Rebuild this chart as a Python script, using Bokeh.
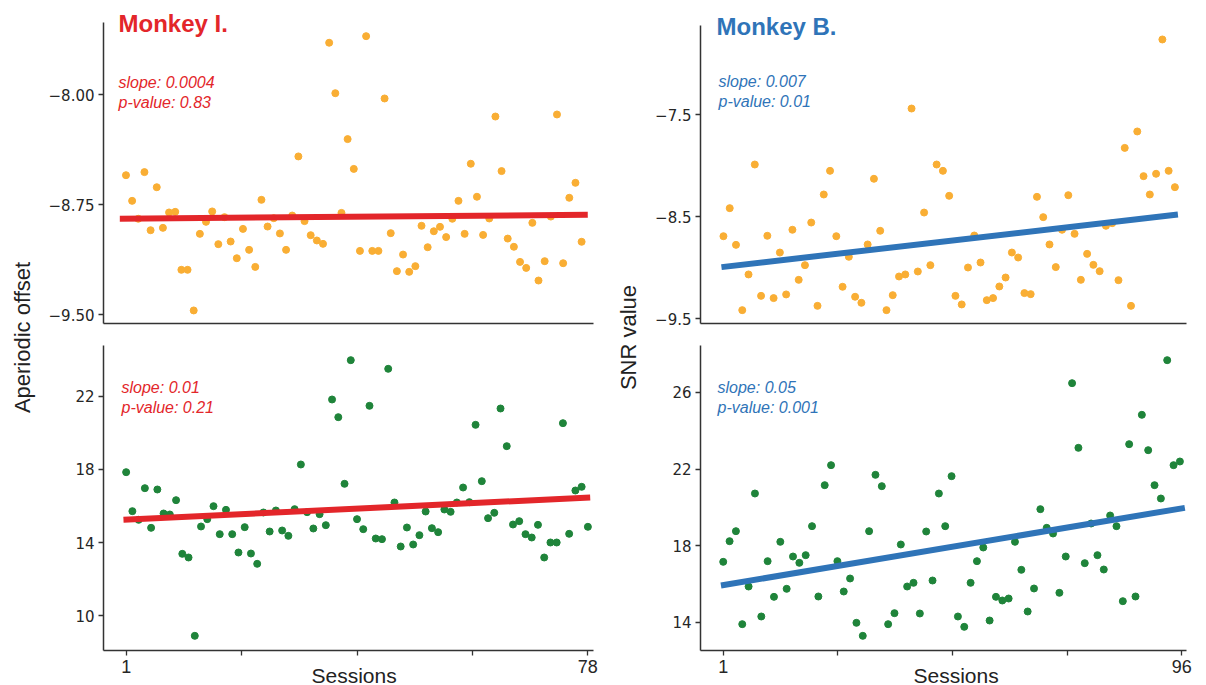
import numpy as np
from bokeh.plotting import figure
from bokeh.models import Label, FixedTicker, Range1d, Title
from bokeh.layouts import row, column
from bokeh.embed import file_html
from bokeh.resources import INLINE

# ---------------- data ----------------
# Monkey I. (78 sessions axis, 75 plotted points)
monkey_i_offset = [
    -8.548, -8.723, -8.845, -8.527, -8.923, -8.630, -8.907, -8.802, -8.798, -9.193,
    -9.193, -9.470, -8.948, -8.866, -8.795, -9.018, -8.834, -9.000, -9.114, -8.914,
    -9.057, -9.173, -8.716, -8.898, -8.841, -8.945, -9.057, -8.823, -8.420, -8.861,
    -8.957, -8.993, -9.016, -7.645, -7.989, -8.805, -8.302, -8.505, -9.064, -7.600,
    -9.064, -9.064, -8.025, -8.943, -9.202, -9.089, -9.207, -9.168, -8.893, -9.039,
    -8.930, -8.900, -8.970, -8.845, -8.723, -8.948, -8.470, -8.695, -8.955, -8.843,
    -8.148, -8.520, -8.980, -9.036, -9.139, -9.180, -8.873, -9.266, -9.134, -8.830,
    -8.134, -9.148, -8.702, -8.600, -9.002,
]
monkey_i_snr = [
    17.849, 15.719, 15.245, 16.975, 14.808, 16.902, 15.591, 15.537, 16.319, 13.388,
    13.188, 8.909, 14.881, 15.282, 15.992, 14.462, 15.791, 14.462, 13.461, 14.845,
    13.406, 12.842, 15.646, 14.608, 15.755, 14.663, 14.371, 15.828, 18.268, 15.664,
    14.772, 15.555, 14.954, 21.818, 20.853, 17.212, 23.966, 15.282, 14.735, 21.472,
    14.225, 14.189, 23.493, 16.192, 13.789, 14.827, 13.898, 14.408, 15.700, 14.790,
    14.572, 15.810, 15.682, 16.192, 17.011, 16.210, 20.434, 17.357, 15.336, 15.628,
    21.326, 19.269, 14.990, 15.172, 14.462, 14.280, 14.972, 13.188, 14.007, 14.007,
    20.525, 14.481, 16.847, 17.048, 14.863,
]
# Monkey B. (96 sessions axis, 73 plotted points)
monkey_b_offset = [
    -8.690, -8.415, -8.775, -9.415, -9.065, -7.987, -9.275, -8.686, -9.297, -8.850,
    -9.261, -8.627, -9.118, -8.974, -8.556, -9.373, -8.281, -8.049, -8.690, -9.186,
    -8.892, -9.284, -9.343, -8.771, -8.127, -8.637, -9.415, -9.268, -9.085, -9.065,
    -7.438, -9.036, -8.458, -8.974, -7.987, -8.049, -8.294, -9.275, -9.359, -8.997,
    -8.683, -8.948, -9.317, -9.297, -9.183, -9.095, -8.850, -8.899, -9.248, -9.258,
    -8.304, -8.503, -8.771, -8.993, -8.627, -8.288, -8.667, -9.118, -8.863, -8.971,
    -9.033, -8.588, -8.562, -9.121, -7.824, -9.373, -7.663, -8.101, -8.281, -8.078,
    -6.761, -8.049, -8.209,
]
monkey_b_snr = [
    17.165, 18.243, 18.765, 13.913, 15.878, 20.730, 14.313, 17.200, 15.339, 18.209,
    15.757, 17.443, 17.113, 17.513, 19.026, 15.357, 21.165, 22.209, 17.200, 15.617,
    16.296, 13.983, 13.304, 18.765, 21.704, 21.113, 13.913, 14.487, 18.070, 15.878,
    16.070, 14.470, 18.748, 16.191, 20.730, 19.026, 21.635, 14.313, 13.774, 16.070,
    17.200, 17.913, 14.104, 15.339, 15.148, 15.252, 18.209, 16.748, 14.574, 15.774,
    19.913, 18.939, 18.643, 15.548, 17.443, 26.487, 23.113, 17.096, 19.165, 17.513,
    16.765, 19.583, 19.026, 15.113, 23.304, 15.357, 24.835, 22.991, 21.165, 20.470,
    27.687, 22.209, 22.400,
]

# regression fits (intercept at index 0, slope per index, drawn extent)
fit_i_offset = {"intercept": -8.845, "slope": 0.00036, "start": 0.0, "end": 76.0}
fit_i_snr = {"intercept": 15.236, "slope": 0.0163, "start": 0.57, "end": 75.37}
fit_b_offset = {"intercept": -8.998, "slope": 0.00709, "start": 0.68, "end": 73.48}
fit_b_snr = {"intercept": 15.895, "slope": 0.0554, "start": 0.64, "end": 73.78}

stats_i_offset = ["slope: 0.0004", "p-value: 0.83"]
stats_i_snr = ["slope: 0.01", "p-value: 0.21"]
stats_b_offset = ["slope: 0.007", "p-value: 0.01"]
stats_b_snr = ["slope: 0.05", "p-value: 0.001"]

titles = ["Monkey I.", "Monkey B."]
ylabel_left = "Aperiodic offset"
ylabel_right = "SNR value"
xlabel = "Sessions"

yticks_i_offset = [-9.5, -8.75, -8.0]
yticklabels_i_offset = ["\u22129.50", "\u22128.75", "\u22128.00"]
yticks_i_snr = [10, 14, 18, 22]
yticklabels_i_snr = ["10", "14", "18", "22"]
yticks_b_offset = [-9.5, -8.5, -7.5]
yticklabels_b_offset = ["\u22129.5", "\u22128.5", "\u22127.5"]
yticks_b_snr = [14, 18, 22, 26]
yticklabels_b_snr = ["14", "18", "22", "26"]

xticklabels_i = ["1", "", "", "", "78"]
xticklabels_b = ["1", "", "", "", "96"]

# ---------------- style ----------------
RED = "#e3262a"
BLUE = "#2f74b8"
ORANGE = "#f9ae34"
GREEN = "#1f843a"
AXIS = "#333333"
TICKLBL = "#262626"
SANS = "Liberation Sans"


def make_panel(w, h, borders, xr, yr, values, pcolor, fit, fcolor,
               yticks, yticklabels, xticks=None, xticklabels=None, xlabel_offset=None,
               title=None, title_offset=None, stats=None, stats_pos=None):
    bl, br, bt, bb = borders
    p = figure(width=w, height=h, x_range=Range1d(*xr), y_range=Range1d(*yr),
               toolbar_location=None, output_backend="svg",
               min_border_left=bl, min_border_right=br,
               min_border_top=bt, min_border_bottom=bb)
    p.outline_line_color = None
    p.grid.visible = False
    p.background_fill_color = "white"
    p.border_fill_color = "white"

    for ax in (p.xaxis[0], p.yaxis[0]):
        ax.axis_line_color = AXIS
        ax.axis_line_width = 1.5
        ax.major_tick_line_color = AXIS
        ax.major_tick_line_width = 1.3
        ax.major_tick_out = 5
        ax.major_tick_in = 0
        ax.minor_tick_line_color = None
        ax.major_label_text_color = TICKLBL

    ya = p.yaxis[0]
    ya.ticker = FixedTicker(ticks=yticks)
    ya.major_label_overrides = dict(zip(yticks, yticklabels))
    ya.major_label_text_font = "DejaVu Sans"
    ya.major_label_text_font_size = "15px"
    ya.major_label_standoff = 4

    xa = p.xaxis[0]
    if xticks is None:
        xa.ticker = FixedTicker(ticks=[])
        xa.major_tick_out = 0
        xa.major_tick_line_color = None
        xa.major_label_text_font_size = "0px"
        xa.major_label_standoff = 0
    else:
        xa.ticker = FixedTicker(ticks=xticks)
        xa.major_label_overrides = dict(zip(xticks, xticklabels))
        xa.major_label_text_font = SANS
        xa.major_label_text_font_size = "18px"
        xa.major_label_standoff = 4
        p.add_layout(Title(text=xlabel, align="left", offset=xlabel_offset,
                           vertical_align="top", standoff=-24,
                           text_font=SANS, text_font_size="21px",
                           text_font_style="normal", text_color="#222222"), "below")

    idx = list(range(1, len(values) + 1))
    p.scatter(idx, values, size=7, fill_color=pcolor, line_color=pcolor)

    xs = [fit["start"], fit["end"]]
    ys = [fit["intercept"] + fit["slope"] * x for x in xs]
    p.line(xs, ys, line_width=6, line_color=fcolor, line_cap="butt")

    if title is not None:
        p.title.text = title
        p.title.align = "left"
        p.title.offset = title_offset
        p.title.vertical_align = "bottom"
        p.title.standoff = -28
        p.title.text_font = SANS
        p.title.text_font_size = "24px"
        p.title.text_font_style = "bold"
        p.title.text_color = fcolor
    if stats is not None:
        for k, s in enumerate(stats):
            p.add_layout(Label(x=stats_pos[0], y=stats_pos[1] - 19.5 * k,
                               x_units="screen", y_units="screen",
                               text=s, text_font=SANS, text_font_size="16px",
                               text_font_style="italic", text_color=fcolor,
                               text_align="left", text_baseline="middle"))
    return p


def label_fig(w, h, border_left, border_bottom, text, standoff):
    f = figure(width=w, height=h, x_range=Range1d(0, 1), y_range=Range1d(0, 1),
               toolbar_location=None, output_backend="svg", x_axis_type=None,
               min_border_left=border_left, min_border_right=0,
               min_border_top=0, min_border_bottom=border_bottom)
    f.outline_line_color = None
    f.grid.visible = False
    f.background_fill_color = "white"
    f.border_fill_color = "white"
    ya = f.yaxis[0]
    ya.ticker = FixedTicker(ticks=[])
    ya.axis_line_color = None
    ya.major_tick_line_color = None
    ya.minor_tick_line_color = None
    ya.major_tick_out = 0
    ya.major_label_standoff = 0
    ya.major_label_text_font_size = "0px"
    ya.axis_label = text
    ya.axis_label_standoff = standoff
    ya.axis_label_text_font = SANS
    ya.axis_label_text_font_size = "22px"
    ya.axis_label_text_font_style = "normal"
    ya.axis_label_text_color = "#222222"
    return f


ticks_i = list(np.linspace(1, 75, 5))
ticks_b = list(np.linspace(1, 73.3, 5))

tl = make_panel(566, 335, (61, 11, 22, 12), (-2.65, 76.93), (-9.559, -7.507),
                monkey_i_offset, ORANGE, fit_i_offset, RED,
                yticks_i_offset, yticklabels_i_offset,
                title=titles[0], title_offset=15, stats=stats_i_offset, stats_pos=(15, 241))
bl = make_panel(566, 350, (60, 15, 10, 35), (-2.63, 75.9), (8.108, 24.767),
                monkey_i_snr, GREEN, fit_i_snr, RED,
                yticks_i_snr, yticklabels_i_snr, xticks=ticks_i, xticklabels=xticklabels_i,
                xlabel_offset=208, stats=stats_i_snr, stats_pos=(18, 263))
tr = make_panel(560, 335, (54, 18, 25, 12), (-2.66, 74.85), (-9.546, -6.624),
                monkey_b_offset, ORANGE, fit_b_offset, BLUE,
                yticks_b_offset, yticklabels_b_offset,
                title=titles[1], title_offset=16, stats=stats_b_offset, stats_pos=(18, 242))
br = make_panel(560, 350, (56, 12, 10, 35), (-2.584, 74.04), (12.539, 28.452),
                monkey_b_snr, GREEN, fit_b_snr, BLUE,
                yticks_b_snr, yticklabels_b_snr, xticks=ticks_b, xticklabels=xticklabels_b,
                xlabel_offset=213, stats=stats_b_snr, stats_pos=(17, 263))

lab_l = label_fig(42, 685, 40, 11, ylabel_left, 6)
lab_r = label_fig(36, 685, 34, 0, ylabel_right, 2)

layout = row(lab_l, column(tl, bl), lab_r, column(tr, br))

open("out.html", "w").write(file_html(layout, INLINE))
